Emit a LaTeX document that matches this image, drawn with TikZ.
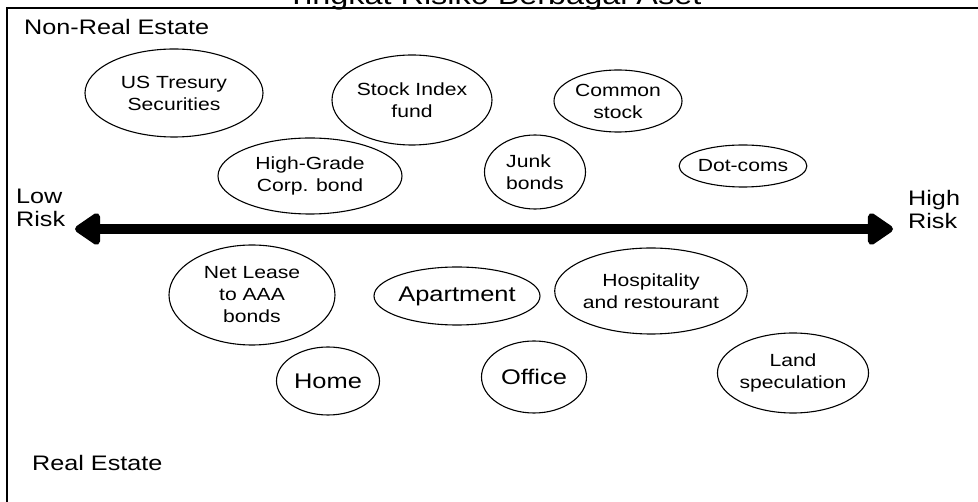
\documentclass[tikz,border=0pt]{standalone}
\usepackage{fontspec}
\setmainfont{Liberation Sans}[FakeStretch=1.2]
\usetikzlibrary{shapes.geometric,arrows.meta}

\tikzset{
  asset/.style={draw, ellipse, line width=1.1pt, inner sep=0pt, align=center,
                font=\fontsize{17.6}{22}\selectfont},
  bigasset/.style={asset, font=\fontsize{21.2}{24}\selectfont},
  zonelabel/.style={anchor=base west, inner sep=0pt, font=\fontsize{21}{24}\selectfont},
  risklabel/.style={anchor=base west, inner sep=0pt, align=left,
                    font=\fontsize{21}{23}\selectfont},
  frameline/.style={line width=2pt},
  riskaxis/.style={line width=10pt,
    {Triangle[length=28pt,width=36pt,round]}-{Triangle[length=28pt,width=36pt,round]}}
}

\begin{document}
\begin{tikzpicture}[x=1pt,y=-1pt]
\useasboundingbox (0,0) rectangle (978,502);
\clip (0,0) rectangle (978,502);

% heading, cut by the top edge
\node[anchor=base, inner sep=0pt, font=\fontsize{27}{30}\selectfont] (title) at (494,5)
  {Tingkat Risiko Berbagai Aset};

% frame: top and left edges only
\coordinate (fcorner) at (6.5,8.5);
\coordinate (ftopend) at (978,8.5);
\coordinate (fleftend) at (6.5,502);
\draw[frameline] (ftopend) -- (fcorner) -- (fleftend);

% zone labels
\node[zonelabel] (nonre) at (24,35) {Non-Real Estate};
\node[zonelabel] (re) at (32,471) {Real Estate};

% risk axis
\coordinate (lowend) at (75,229);
\coordinate (highend) at (893,229);
\draw[riskaxis] (lowend) -- (highend);
\node[risklabel] (lowrisk) at (16,227) {Low\\Risk};
\node[risklabel] (highrisk) at (908,229) {High\\Risk};

% non-real-estate assets
\node[asset, minimum width=178pt, minimum height=88pt] (tsy) at (174,93) {US Tresury\\Securities};
\node[asset, minimum width=160pt, minimum height=90pt] (sif) at (412,100) {Stock Index\\fund};
\node[asset, minimum width=184pt, minimum height=76pt] (hgcb) at (310,176) {High-Grade\\Corp. bond};
\node[asset, minimum width=128pt, minimum height=62pt] (cs) at (618,101) {Common\\stock};
\node[asset, align=left, minimum width=101pt, minimum height=74pt] (junk) at (535,172) {Junk\\bonds};
\node[asset, minimum width=124pt, minimum height=42pt] (dot) at (743,166) {Dot-coms};

% real-estate assets
\node[asset, minimum width=166pt, minimum height=100pt] (nl) at (252,295) {Net Lease\\to AAA\\bonds};
\node[bigasset, minimum width=158pt, minimum height=58pt] (apt) at (457,296) {Apartment};
\node[asset, minimum width=190pt, minimum height=86pt] (hosp) at (651,291) {Hospitality\\and restourant};
\node[bigasset, minimum width=103pt, minimum height=68pt] (home) at (328,381) {Home};
\node[bigasset, minimum width=105pt, minimum height=72pt] (office) at (534,377) {Office};
\node[asset, minimum width=148pt, minimum height=80pt] (land) at (793,373) {Land\\speculation};
\end{tikzpicture}
\end{document}
